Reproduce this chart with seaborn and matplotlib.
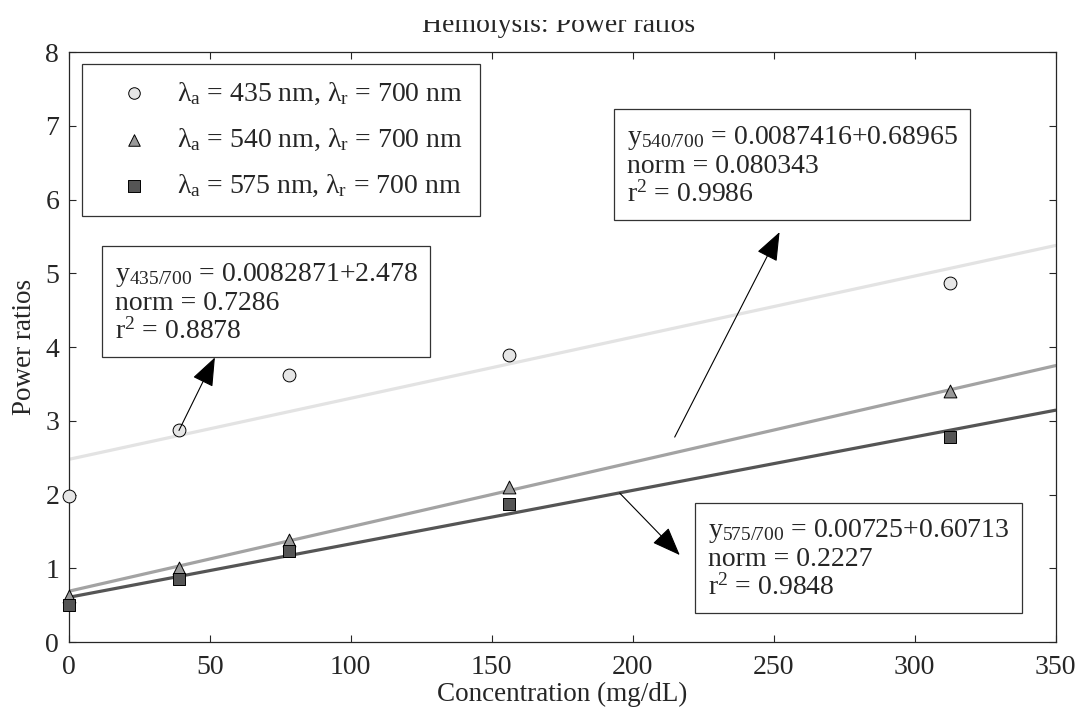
import numpy as np
import pandas as pd
import matplotlib
matplotlib.use('Agg')
import matplotlib.pyplot as plt
from matplotlib.patches import Rectangle
import seaborn as sns

# concentracions (mg/dL) i ratios llegides del grafic
conc = [0, 39.06, 78.125, 156.25, 312.5]
ratio_435 = [1.98, 2.87, 3.62, 3.90, 4.87]
ratio_540 = [0.62, 1.00, 1.38, 2.10, 3.40]
ratio_575 = [0.50, 0.85, 1.24, 1.87, 2.78]

# coeficients de l'ajust lineal (pendent, ordenada)
fit_435 = (0.0082871, 2.478)
fit_540 = (0.0087416, 0.68965)
fit_575 = (0.00725, 0.60713)

labels = [r'$\lambda_a$ = 435 nm, $\lambda_r$ = 700 nm',
          r'$\lambda_a$ = 540 nm, $\lambda_r$ = 700 nm',
          r'$\lambda_a$ = 575 nm, $\lambda_r$ = 700 nm']
line_colors = ['#e3e3e3', '#a3a3a3', '#555555']
marker_colors = ['#e6e6e6', '#999999', '#555555']
markers = ['o', '^', 's']

sns.set_style('ticks')
plt.rcParams['font.family'] = ['Liberation Serif', 'DejaVu Serif']
plt.rcParams['mathtext.fontset'] = 'custom'
plt.rcParams['mathtext.rm'] = 'Liberation Serif'
plt.rcParams['mathtext.it'] = 'Liberation Serif'
plt.rcParams['mathtext.bf'] = 'Liberation Serif'

fig = plt.figure(figsize=(10.76, 7.15), dpi=100)
ax = fig.add_axes([0.064, 0.102, 0.917, 0.825])

xs = np.array([0, 350])
series = [ratio_435, ratio_540, ratio_575]
fits = [fit_435, fit_540, fit_575]

for vals, (m, b), lc in zip(series, fits, line_colors):
    sns.lineplot(x=xs, y=m * xs + b, color=lc, linewidth=2.3, ax=ax,
                 legend=False, zorder=2)

for vals, mc, mk, lab in zip(series, marker_colors, markers, labels):
    sns.scatterplot(x=conc, y=vals, marker=mk, color=mc, edgecolor='black',
                    linewidth=0.7, s=85, ax=ax, label=lab, zorder=3,
                    clip_on=False)

ax.set_xlim(0, 350)
ax.set_ylim(0, 8)
ax.set_xticks(np.arange(0, 351, 50))
ax.set_yticks(np.arange(0, 9, 1))
ax.tick_params(direction='in', top=True, right=True, labelsize=20,
               length=5, width=0.8)
ax.tick_params(axis='x', pad=9)
ax.tick_params(axis='y', pad=7)
for sp in ax.spines.values():
    sp.set_linewidth(0.9)
    sp.set_visible(True)
ax.set_xlabel('Concentration (mg/dL)', fontsize=19.5, labelpad=2)
ax.set_ylabel('Power ratios', fontsize=19.5, labelpad=6)

# titol retallat per dalt com a l'original
fig.text(0.519, 1 - 32 / 715, 'Hemolysis: Power ratios', ha='center',
         va='baseline', fontsize=20)
fig.patches.append(Rectangle((0, 1 - 20 / 715), 1, 20 / 715,
                             transform=fig.transFigure, facecolor='white',
                             edgecolor='none', zorder=10))

leg = ax.legend(loc='upper left', bbox_to_anchor=(0.013, 0.98), fontsize=20,
                frameon=True, fancybox=False, edgecolor='black',
                labelspacing=0.72, borderpad=0.6, handlelength=2.6,
                handletextpad=0.24, borderaxespad=0, markerscale=0.9)
leg.get_frame().set_linewidth(0.9)

box = dict(boxstyle='square,pad=0.45', facecolor='white', edgecolor='#333333',
           linewidth=0.9)
arrow = dict(arrowstyle='-|>,head_length=1.8,head_width=0.7', color='black',
             linewidth=0.8, shrinkA=0, shrinkB=0)

texts = [
    (16.3, 5.17, '$\\mathrm{y}_{435/700}$ = 0.0082871+2.478\nnorm = 0.7286\n$\\mathrm{r}^2$ = 0.8878'),
    (197.9, 7.03, '$\\mathrm{y}_{540/700}$ = 0.0087416+0.68965\nnorm = 0.080343\n$\\mathrm{r}^2$ = 0.9986'),
    (226.6, 1.69, '$\\mathrm{y}_{575/700}$ = 0.00725+0.60713\nnorm = 0.2227\n$\\mathrm{r}^2$ = 0.9848'),
]
for x, y, t in texts:
    ax.text(x, y, t, fontsize=20, va='top', ha='left', bbox=box,
            linespacing=1.1, zorder=5)

arrows = [((39.06, 2.87), (51.8, 3.86)),
          ((214.9, 2.78), (252.1, 5.56)),
          ((195.4, 2.02), (216.7, 1.18))]
for tail, head in arrows:
    ax.annotate('', xy=head, xytext=tail, arrowprops=arrow, zorder=6)

fig.savefig('out.png', dpi=100)
